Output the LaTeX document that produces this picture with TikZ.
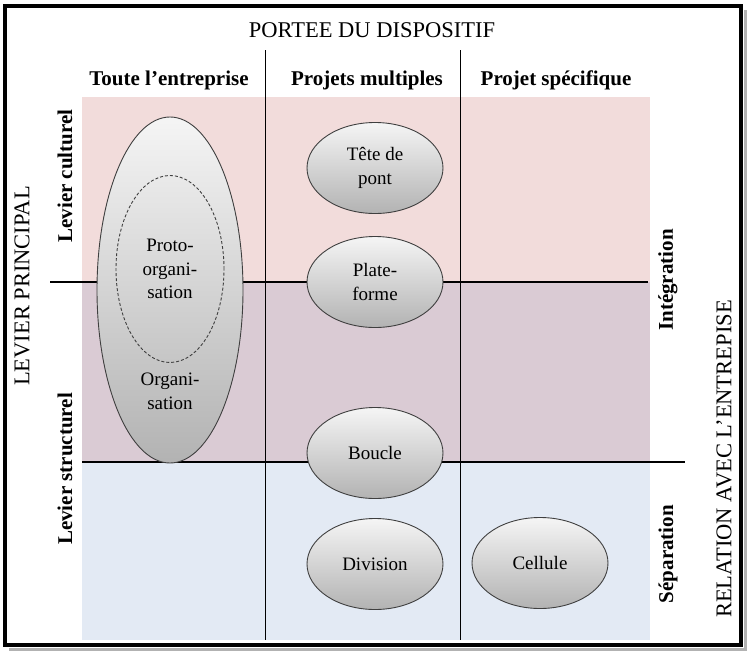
\documentclass[tikz,border=0pt]{standalone}
\usepackage{fontspec}
\setmainfont{Liberation Serif}
\usetikzlibrary{shapes.geometric}
\definecolor{rosecult}{HTML}{F2DCDB}
\definecolor{mauvemix}{HTML}{DACBD4}
\definecolor{bleustruct}{HTML}{E3EAF4}
\definecolor{contour}{HTML}{3F3F3F}
\tikzset{
  dispositif/.style={ellipse,draw=contour,line width=0.9pt,top color=white!96!black,bottom color=white!70!black,
    inner sep=0pt,align=center,font=\fontsize{19}{23.5}\selectfont},
  petit/.style={dispositif,minimum width=136pt,minimum height=91pt},
  texte/.style={align=center,font=\fontsize{19}{23.5}\selectfont},
  entete/.style={font=\fontsize{21}{24}\selectfont\bfseries},
  axe/.style={font=\fontsize{22.5}{26}\selectfont},
  levier/.style={font=\fontsize{21}{24}\selectfont\bfseries,rotate=90},
  separateur/.style={line width=2.5pt},
  colonne/.style={line width=1pt}
}
\begin{document}
\begin{tikzpicture}[x=1pt,y=-1pt]
\useasboundingbox (0,0) rectangle (750,651);
\fill[rosecult] (82,97) rectangle (650,282);
\fill[mauvemix] (82,282) rectangle (650,462);
\fill[bleustruct] (82,462) rectangle (650,640);
\draw[gray!60,line width=3pt] (745.5,10) -- (745.5,649.5) -- (9,649.5);
\draw[line width=4pt] (4.5,5.5) rectangle (740.5,645);
\node[axe] (portee) at (372,30) {PORTEE DU DISPOSITIF};
\node[entete] (toute) at (169,80) {Toute l’entreprise};
\node[entete] (multiples) at (367,80) {Projets multiples};
\node[entete] (specifique) at (556,80) {Projet spécifique};
\coordinate (c1h) at (265,50); \coordinate (c1b) at (265,640);
\coordinate (c2h) at (460,50); \coordinate (c2b) at (460,640);
\coordinate (s1g) at (50,282); \coordinate (s1d) at (648,282);
\coordinate (s2g) at (82,462); \coordinate (s2d) at (685,462);
\draw[colonne] (c1h) -- (c1b);
\draw[colonne] (c2h) -- (c2b);
\draw[separateur] (s1g) -- (s1d);
\draw[separateur] (s2g) -- (s2d);
\node[dispositif,minimum width=146pt,minimum height=346pt] (organisation) at (170,290) {};
\node[ellipse,draw=contour,line width=0.9pt,dashed,dash pattern=on 3pt off 2pt,minimum width=108pt,minimum height=187pt,
  inner sep=0pt,texte] (proto) at (170,269) {Proto-\\organi-\\sation};
\node[texte] (orgatexte) at (170,391.5) {Organi-\\sation};
\node[petit] (tete) at (375,168) {Tête de\\pont};
\node[petit] (plate) at (375,282) {Plate-\\forme};
\node[petit] (boucle) at (375,453) {Boucle};
\node[petit] (division) at (375,564) {Division};
\node[petit] (cellule) at (540,563) {Cellule};
\node[axe,rotate=90] (principal) at (22,286) {LEVIER PRINCIPAL};
\node[levier] (culturel) at (65,176) {Levier culturel};
\node[levier] (structurel) at (65,469) {Levier structurel};
\node[levier] (integration) at (668,280) {Intégration};
\node[levier] (separation) at (668,554) {Séparation};
\node[axe,rotate=90] (relation) at (724,459) {RELATION AVEC L’ENTREPISE};
\end{tikzpicture}
\end{document}
